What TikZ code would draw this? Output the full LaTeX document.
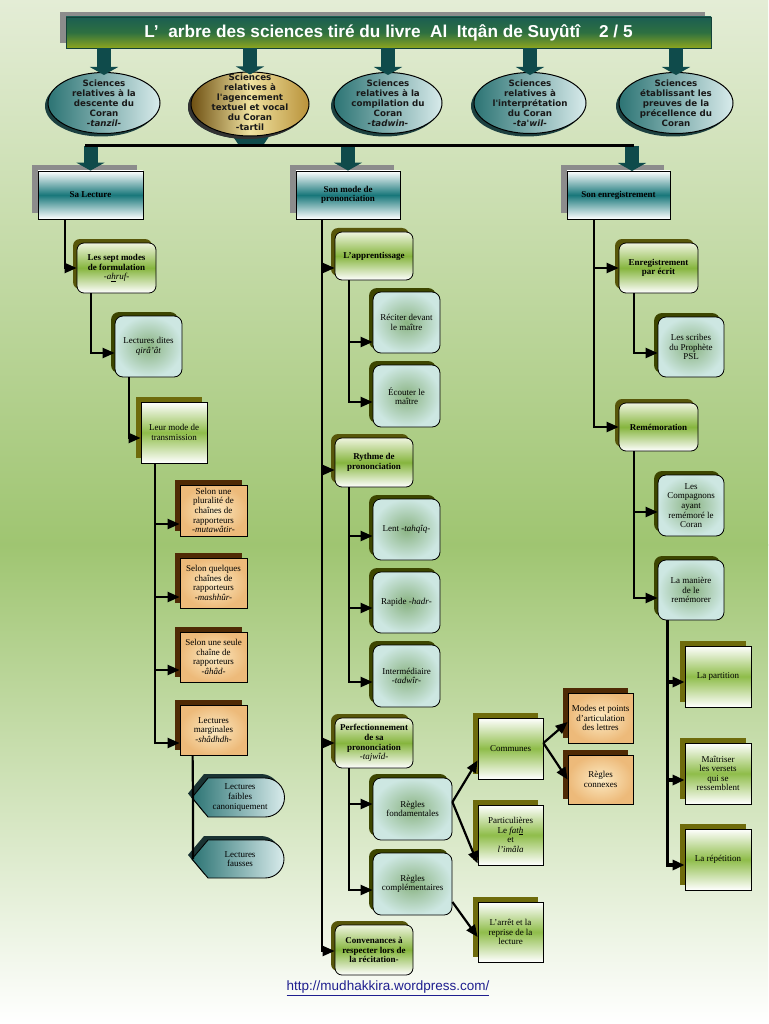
\documentclass[tikz,border=0pt]{standalone}
\usepackage{fontspec}
\setmainfont{Liberation Serif}
\newfontfamily\sansf{Liberation Sans}
\newfontfamily\dejaf{DejaVu Sans}
\usetikzlibrary{arrows.meta,shapes.geometric,shadows,calc}
\definecolor{bgtop}{HTML}{E4EDD6}
\definecolor{bgmid}{HTML}{9FC571}
\definecolor{ttop}{HTML}{1B5E52}
\definecolor{tmid}{HTML}{2E7040}
\definecolor{tbot}{HTML}{8CA51F}
\definecolor{blockteal}{HTML}{0F4B4B}
\definecolor{rgtop}{HTML}{EEF4DE}
\definecolor{rgmid}{HTML}{86B53E}
\definecolor{olsh}{HTML}{57560A}
\definecolor{tin}{HTML}{8AB382}
\definecolor{tout}{HTML}{CDE7E2}
\definecolor{tsh}{HTML}{3C4500}
\definecolor{oin}{HTML}{FCEBC4}
\definecolor{oout}{HTML}{EDBA7A}
\definecolor{osh}{HTML}{4F2A05}
\definecolor{sqmid}{HTML}{8FBD4A}
\definecolor{sqsh}{HTML}{6E6B0C}
\definecolor{ltmid}{HTML}{18777A}
\definecolor{ltsh}{HTML}{8C8C8C}
\definecolor{elldark}{HTML}{2C7474}
\definecolor{elllight}{HTML}{D8EBEB}
\definecolor{ellsh}{HTML}{1C4040}
\definecolor{goldA}{HTML}{6E5012}
\definecolor{goldB}{HTML}{F0E2A0}
\definecolor{goldC}{HTML}{B9923A}
\definecolor{urlblue}{HTML}{1F1F8F}
\definecolor{hexsh}{HTML}{1A3333}
\tikzset{
  txt/.style={font=\fontsize{9}{9.6}\selectfont, align=center, text=black, inner sep=1pt},
  bold/.style={font=\fontsize{9}{9.6}\selectfont\bfseries},
  rg/.style={txt, draw=black, line width=0.8pt, rounded corners=7pt, top color=rgtop, bottom color=white, middle color=rgmid,
    general shadow={fill=olsh, shadow xshift=-4pt, shadow yshift=4pt}},
  rt/.style={txt, draw=black, line width=0.8pt, rounded corners=8pt, inner color=tin, outer color=tout,
    general shadow={fill=tsh, shadow xshift=-4pt, shadow yshift=4pt}},
  og/.style={txt, draw=black, line width=0.8pt, inner color=oin, outer color=oout,
    general shadow={fill=osh, shadow xshift=-5pt, shadow yshift=5pt}},
  sq/.style={txt, draw=black, line width=0.8pt, top color=white, bottom color=white, middle color=sqmid,
    general shadow={fill=sqsh, shadow xshift=-5pt, shadow yshift=5pt}},
  lt/.style={txt, bold, draw=black, line width=0.8pt, top color=white, bottom color=white, middle color=ltmid,
    general shadow={fill=ltsh, shadow xshift=-6pt, shadow yshift=6pt}},
  ell/.style={ellipse, draw=black, line width=1pt, left color=elldark, right color=elllight, inner sep=0pt,
    general shadow={fill=ellsh, shadow xshift=-3pt, shadow yshift=-3pt}},
  elltxt/.style={font=\dejaf\bfseries\fontsize{8.7}{10}\selectfont, align=center, text=black!90, inner sep=0pt},
  barr/.style={draw=blockteal, line width=14pt, -{Triangle[length=8pt,width=28pt]}},
  conn/.style={line width=2.2pt, -{Triangle[length=12pt,width=10pt]}},
  trunk/.style={line width=2.2pt},
  hexfill/.style={draw=black, line width=0.9pt, left color=elldark, right color=elllight},
}
\begin{document}
\begin{tikzpicture}[x=1pt,y=-1pt]
\useasboundingbox (0,0) rectangle (768,1024);
\fill[top color=bgtop, bottom color=bgmid] (0,0) rectangle (768,545);
\fill[top color=bgmid, bottom color=white] (0,544) rectangle (768,1024);

% title
\node[draw=ttop!70!black, line width=0.5pt, minimum width=645pt, minimum height=31pt, top color=ttop, bottom color=tbot, middle color=tmid,
  general shadow={fill=ltsh, shadow xshift=-6pt, shadow yshift=5pt},
  text=white, font=\sansf\bfseries\fontsize{17.2}{19}\selectfont] (title) at (388.5,32.5)
  {L’\ \ arbre des sciences tiré du livre\ \ Al\ \ Itqân de Suyûtî\hspace{1.1em}2 / 5};

% funnel under second ellipse
\fill[blockteal] (230,132) -- (272,132) -- (262,147) -- (240,147) -- cycle;

% ellipses
\node[ell, minimum width=112pt, minimum height=61pt] (e1) at (104,103) {};
\node[ell, minimum width=118pt, minimum height=64pt, left color=goldA, right color=goldC, middle color=goldB,
  general shadow={fill=black!80, shadow xshift=-3pt, shadow yshift=-3pt}] (e2) at (250,104) {};
\node[ell, minimum width=108pt, minimum height=61pt] (e3) at (388,103) {};
\node[ell, minimum width=112pt, minimum height=61pt] (e4) at (530,103) {};
\node[ell, minimum width=114pt, minimum height=61pt] (e5) at (676,103) {};
\node[elltxt] (e1t) at (e1) {Sciences\\relatives à la\\descente du\\Coran\\\textit{-tanzil-}};
\node[elltxt] (e2t) at (250,102.5) {Sciences\\relatives à\\l'agencement\\textuel et vocal\\du Coran\\-tartil};
\node[elltxt] (e3t) at (e3) {Sciences\\relatives à la\\compilation du\\Coran\\\textit{-tadwin-}};
\node[elltxt] (e4t) at (e4) {Sciences\\relatives à\\l'interprétation\\du Coran\\\textit{-ta'wil-}};
\node[elltxt] (e5t) at (e5) {Sciences\\établissant les\\preuves de la\\précellence du\\Coran};

\foreach \e in {e1,e2,e3,e4,e5}{
  \draw[barr] (title.south -| \e.north) -- ([yshift=-3pt]\e.north);
}

% level 2
\node[lt, minimum width=105pt, minimum height=48pt] (sa) at (90.5,195) {Sa Lecture};
\node[lt, minimum width=104pt, minimum height=48pt] (mode) at (348,195) {Son mode de\\prononciation};
\node[lt, minimum width=103pt, minimum height=48pt] (enreg) at (618.5,195) {Son enregistrement};

\coordinate (hl) at (85,146);
\coordinate (hr) at (634,146);
\coordinate (ea) at (632,171);
\draw[barr] (hl -| sa.north) -- (sa.north);
\draw[barr] (hl -| mode.north) -- (mode.north);
\draw[barr] (hl -| ea) -- (ea);
\draw[line width=3pt] (hl) -- (hr);

% left column
\node[rg, bold, minimum width=79pt, minimum height=50pt] (sept) at (116.5,268) {Les sept modes\\de formulation\\\mdseries\textit{-a\underline{h}ruf-}};
\node[rt, minimum width=67pt, minimum height=61pt] (qira) at (148.5,346.5) {Lectures dites\\\textit{qirâ'ât}};
\node[sq, minimum width=66pt, minimum height=61pt] (leur) at (174,432.5) {Leur mode de\\transmission};
\node[og, minimum width=67pt, minimum height=51pt] (mut) at (213.5,510.5) {Selon une\\pluralité de\\chaînes de\\rapporteurs\\\textit{-mutawâtir-}};
\node[og, minimum width=67pt, minimum height=50pt] (mash) at (213.5,583) {Selon quelques\\chaînes de\\rapporteurs\\\textit{-mashhûr-}};
\node[og, minimum width=67pt, minimum height=50pt] (ahad) at (213.5,657) {Selon une seule\\chaîne de\\rapporteurs\\\textit{-âhâd-}};
\node[og, minimum width=67pt, minimum height=50pt] (shadh) at (213.5,730) {Lectures\\marginales\\\textit{-shâdhdh-}};

% pointed shapes
\fill[hexsh, shift={(-4,-4)}] (192,797.5) -- (208,778) -- (265,778) arc[start angle=-90,end angle=90,radius=19.5] -- (208,817) -- cycle;
\path[hexfill] (192,797.5) -- (208,778) -- (265,778) arc[start angle=-90,end angle=90,radius=19.5] -- (208,817) -- cycle;
\fill[hexsh, shift={(-4,-4)}] (192,859) -- (208,840) -- (265,840) arc[start angle=-90,end angle=90,radius=19] -- (208,878) -- cycle;
\path[hexfill] (192,859) -- (208,840) -- (265,840) arc[start angle=-90,end angle=90,radius=19] -- (208,878) -- cycle;
\node[txt] (faib) at (240,797.5) {Lectures\\faibles\\canoniquement};
\node[txt] (faus) at (240,859) {Lectures\\fausses};
\coordinate (faibpt) at (193,797.5);
\coordinate (fauspt) at (193,859);

\draw[conn] ([xshift=27pt]sa.south west) |- (sept.west);
\draw[conn] ([xshift=14pt]sept.south west) |- ([yshift=-6.5pt]qira.west);
\draw[conn] ([xshift=14pt]qira.south west) |- ([yshift=-5.5pt]leur.west);
\draw[conn] ([xshift=14pt]leur.south west) |- ([yshift=-13.5pt]mut.west);
\draw[conn] ([xshift=14pt]leur.south west) |- ([yshift=-14pt]mash.west);
\draw[conn] ([xshift=14pt]leur.south west) |- ([yshift=-13pt]ahad.west);
\draw[conn] ([xshift=14pt]leur.south west) |- ([yshift=-13pt]shadh.west);
\draw[trunk] ([xshift=13pt]shadh.south west) -- (faibpt) -- (fauspt);

% middle column
\node[rg, bold, minimum width=78pt, minimum height=48pt] (app) at (374,256) {L'apprentissage};
\node[rt, minimum width=67pt, minimum height=61pt] (recit) at (406.5,322.5) {Réciter devant\\le maître};
\node[rt, minimum width=67pt, minimum height=62pt] (ecout) at (406.5,396) {Écouter le\\maître};
\node[rg, bold, minimum width=78pt, minimum height=49pt] (ryth) at (374,462.5) {Rythme de\\prononciation};
\node[rt, minimum width=67pt, minimum height=61pt] (lent) at (406.5,529.5) {Lent \textit{-tahqîq-}};
\node[rt, minimum width=67pt, minimum height=61pt] (rapide) at (406.5,602.5) {Rapide \textit{-hadr-}};
\node[rt, minimum width=67pt, minimum height=62pt] (inter) at (406.5,676) {Intermédiaire\\\textit{-tadwîr-}};
\node[rg, bold, minimum width=78pt, minimum height=50pt] (perf) at (374,743) {Perfectionnement\\de sa\\prononciation\\\mdseries\textit{-tajwîd-}};
\node[rt, minimum width=79pt, minimum height=62pt] (fond) at (412.5,809) {Règles\\fondamentales};
\node[rt, minimum width=79pt, minimum height=62pt] (compl) at (412.5,884) {Règles\\complémentaires};
\node[sq, minimum width=65pt, minimum height=61pt] (comm) at (510.5,748.5) {Communes};
\node[sq, minimum width=65pt, minimum height=60pt] (partic) at (510.5,835) {Particulières\\Le \textit{fat\underline{h}}\\et\\\textit{l'imâla}};
\node[sq, minimum width=65pt, minimum height=60pt] (arret) at (510.5,932) {L'arrêt et la\\reprise de la\\lecture};
\node[og, minimum width=65pt, minimum height=50pt] (modes) at (600.5,718) {Modes et points\\d'articulation\\des lettres};
\node[og, minimum width=65pt, minimum height=49pt] (connex) at (600.5,779.5) {Règles\\connexes};
\node[rg, bold, minimum width=78pt, minimum height=50pt] (conv) at (374,950) {Convenances à\\respecter lors de\\la récitation-};

\draw[conn] ([xshift=26pt]mode.south west) |- ([yshift=-12pt]app.west);
\draw[conn] ([xshift=26pt]mode.south west) |- ([yshift=-7.5pt]ryth.west);
\draw[conn] ([xshift=26pt]mode.south west) |- (perf.west);
\draw[conn] ([xshift=26pt]mode.south west) |- ([yshift=-1pt]conv.west);
\draw[conn] ([xshift=14pt]app.south west) |- ([yshift=-19.5pt]recit.west);
\draw[conn] ([xshift=14pt]app.south west) |- ([yshift=-6pt]ecout.west);
\draw[conn] ([xshift=14pt]ryth.south west) |- ([yshift=-6.5pt]lent.west);
\draw[conn] ([xshift=14pt]ryth.south west) |- ([yshift=-5.5pt]rapide.west);
\draw[conn] ([xshift=14pt]ryth.south west) |- ([yshift=-6pt]inter.west);
\draw[conn] ([xshift=14pt]perf.south west) |- ([yshift=5pt]fond.west);
\draw[conn] ([xshift=14pt]perf.south west) |- ([yshift=-6pt]compl.west);
\draw[conn] ([yshift=7pt]fond.east) -- ([yshift=19pt]comm.south west);
\draw[conn] ([yshift=7pt]fond.east) -- ([yshift=2pt]partic.south west);
\draw[conn] ([yshift=-18pt]compl.east) -- ([yshift=-5pt]arret.west);
\draw[conn] ([yshift=5.5pt]comm.east) -- ([yshift=-4pt]modes.west);
\draw[conn] ([yshift=5.5pt]comm.east) -- (connex.west);

% right column
\node[rg, bold, minimum width=79pt, minimum height=50pt] (enrpar) at (658.5,268) {Enregistrement\\par écrit};
\node[rt, minimum width=66pt, minimum height=60pt] (scribes) at (691,347) {Les scribes\\du Prophète\\PSL};
\node[rg, bold, minimum width=79pt, minimum height=48pt] (remem) at (658.5,427) {Remémoration};
\node[rt, minimum width=66pt, minimum height=61pt] (comp) at (691,505.5) {Les\\Compagnons\\ayant\\remémoré le\\Coran};
\node[rt, minimum width=66pt, minimum height=60pt] (maniere) at (691,590) {La manière\\de le\\remémorer};
\node[sq, minimum width=66pt, minimum height=61pt] (partition) at (718,676.5) {La partition};
\node[sq, minimum width=66pt, minimum height=61pt] (maitr) at (718,773.5) {Maîtriser\\les versets\\qui se\\ressemblent};
\node[sq, minimum width=66pt, minimum height=61pt] (repet) at (718,859.5) {La répétition};

\draw[conn] ([xshift=27pt]enreg.south west) |- (enrpar.west);
\draw[conn] ([xshift=27pt]enreg.south west) |- (remem.west);
\draw[conn] ([xshift=15pt]enrpar.south west) |- ([yshift=-6pt]scribes.west);
\draw[conn] ([xshift=15pt]remem.south west) |- ([yshift=-6.5pt]comp.west);
\draw[conn] ([xshift=15pt]remem.south west) |- ([yshift=-8pt]maniere.west);
\draw[conn, line width=3.5pt] ([xshift=10pt]maniere.south west) |- ([yshift=-5.5pt]partition.west);
\draw[conn, line width=3.5pt] ([xshift=10pt]maniere.south west) |- ([yshift=-6.5pt]maitr.west);
\draw[conn, line width=3.5pt] ([xshift=10pt]maniere.south west) |- ([yshift=-5.5pt]repet.west);

% url
\node[font=\sansf\fontsize{13.5}{16}\selectfont, text=urlblue, inner sep=0pt] (url) at (388,988) {\underline{http://mudhakkira.wordpress.com/}};
\end{tikzpicture}
\end{document}
